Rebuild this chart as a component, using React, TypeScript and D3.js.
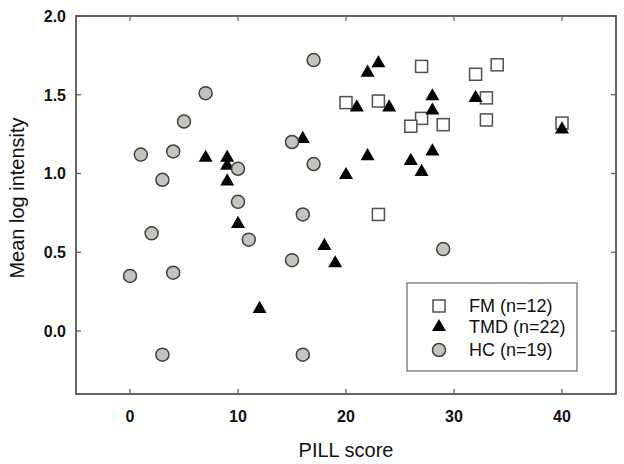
import React from "react";
import * as d3 from "d3";

const fmX = [20, 23, 27, 27, 26, 29, 32, 34, 33, 33, 40, 23];
const fmY = [1.45, 1.46, 1.68, 1.35, 1.30, 1.31, 1.63, 1.69, 1.48, 1.34, 1.32, 0.74];

const tmdX = [7, 9, 9, 9, 10, 12, 16, 22, 20, 23, 22, 21, 24, 28, 28, 28, 26, 27, 32, 40, 18, 19];
const tmdY = [1.10, 1.10, 1.05, 0.95, 0.68, 0.14, 1.22, 1.11, 0.99, 1.70, 1.64, 1.42, 1.42, 1.49, 1.40, 1.14, 1.08, 1.01, 1.48, 1.28, 0.54, 0.43];

const hcX = [7, 5, 1, 4, 10, 3, 10, 2, 11, 0, 4, 3, 17, 15, 17, 16, 15, 16, 29];
const hcY = [1.51, 1.33, 1.12, 1.14, 1.03, 0.96, 0.82, 0.62, 0.58, 0.35, 0.37, -0.15, 1.72, 1.20, 1.06, 0.74, 0.45, -0.15, 0.52];

const xTicks = [0, 10, 20, 30, 40];
const yTicks = [0.0, 0.5, 1.0, 1.5, 2.0];
const legendLabels = ["FM (n=12)", "TMD (n=22)", "HC (n=19)"];

const W = 624, H = 464;
const M = { left: 76, right: 8, top: 16, bottom: 70 };
const FONT = "Arial, 'Liberation Sans', sans-serif";
const AXIS = "#555";

export default function App() {
  const x = d3.scaleLinear().domain([-5, 45]).range([M.left, W - M.right]);
  const y = d3.scaleLinear().domain([-0.4, 2.0]).range([H - M.bottom, M.top]);
  const tri = d3.symbol().type(d3.symbolTriangle).size(85)()!;
  const x0 = M.left, x1 = W - M.right, y0 = H - M.bottom, y1 = M.top;
  const tl = 5;

  const square = (cx: number, cy: number, key: string) => (
    <rect key={key} x={cx - 6} y={cy - 6} width={12} height={12} fill="#fff" stroke="#505050" strokeWidth={1.5} />
  );
  const triangle = (cx: number, cy: number, key: string) => (
    <path key={key} d={tri} transform={`translate(${cx},${cy})`} fill="#000" />
  );
  const circle = (cx: number, cy: number, key: string) => (
    <circle key={key} cx={cx} cy={cy} r={6.5} fill="#c4c4bc" stroke="#404040" strokeWidth={1.5} />
  );

  const legX = 407, legY = 283, legW = 170, legH = 88;
  const rows = [306, 327, 350];

  return (
    <svg width={W} height={H} style={{ position: "absolute", left: 0, top: 0, background: "#fff" }} fontFamily={FONT}>
      <rect x={0} y={0} width={W} height={H} fill="#fff" />
      {xTicks.map((t) => (
        <g key={"xt" + t}>
          <line x1={x(t)} x2={x(t)} y1={y0} y2={y0 - tl} stroke={AXIS} strokeWidth={1.2} />
          <line x1={x(t)} x2={x(t)} y1={y1} y2={y1 + tl} stroke={AXIS} strokeWidth={1.2} />
          <text x={x(t)} y={422} textAnchor="middle" fontSize={16} fontWeight="bold" fill="#111">{t}</text>
        </g>
      ))}
      {yTicks.map((t) => (
        <g key={"yt" + t}>
          <line x1={x0} x2={x0 + tl} y1={y(t)} y2={y(t)} stroke={AXIS} strokeWidth={1.2} />
          <line x1={x1} x2={x1 - tl} y1={y(t)} y2={y(t)} stroke={AXIS} strokeWidth={1.2} />
          <text x={66} y={y(t)} dy="0.36em" textAnchor="end" fontSize={16} fontWeight="bold" fill="#111">{t.toFixed(1)}</text>
        </g>
      ))}
      <rect x={x0} y={y1} width={x1 - x0} height={y0 - y1} fill="none" stroke={AXIS} strokeWidth={1.8} />

      {fmX.map((v, i) => square(x(v), y(fmY[i]), "fm" + i))}
      {tmdX.map((v, i) => triangle(x(v), y(tmdY[i]), "tmd" + i))}
      {hcX.map((v, i) => circle(x(v), y(hcY[i]), "hc" + i))}

      <rect x={legX} y={legY} width={legW} height={legH} fill="#fff" stroke="#666" strokeWidth={1.2} />
      {square(439, rows[0], "lg0")}
      {triangle(439, rows[1], "lg1")}
      {circle(439, rows[2], "lg2")}
      {legendLabels.map((l, i) => (
        <text key={l} x={469} y={rows[i]} dy="0.36em" fontSize={18} fill="#111">{l}</text>
      ))}

      <text x={(x0 + x1) / 2} y={457} textAnchor="middle" fontSize={20} fill="#111">PILL score</text>
      <text transform={`translate(24,198) rotate(-90)`} textAnchor="middle" fontSize={20} fill="#111">Mean log intensity</text>
    </svg>
  );
}
